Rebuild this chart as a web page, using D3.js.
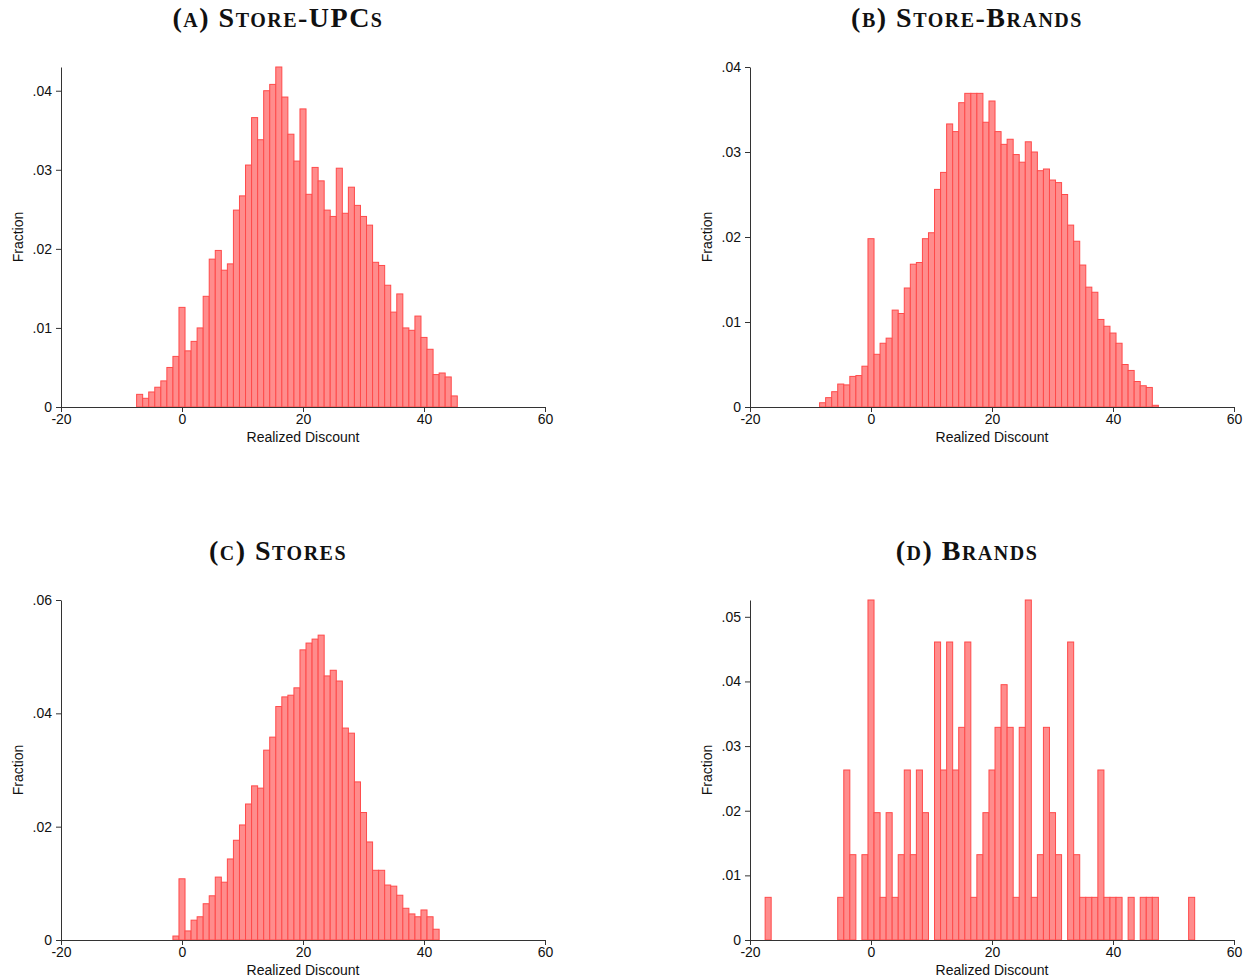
<!DOCTYPE html>
<html lang="en">
<head>
<meta charset="UTF-8">
<title>Realized Discount histograms</title>
<script src="https://cdn.jsdelivr.net/npm/d3@7"></script>
<style>
  body { margin: 0; background: #fff; }
  svg { display: block; }
  .axis text { font-family: "Liberation Sans", Arial, sans-serif; font-size: 14px; fill: #111; }
  .axis path, .axis line { stroke: #333; }
  .label { font-family: "Liberation Sans", Arial, sans-serif; font-size: 14px; fill: #111; }
  .title { font-family: "Liberation Serif", "Times New Roman", serif; font-weight: bold;
           font-variant: small-caps; font-size: 28px; fill: #111; letter-spacing: 1.5px; }
</style>
</head>
<body>
<svg id="chart" width="1252" height="980"></svg>
<script>
// (a) store-upcs: first bin is -7, one bin per integer discount
const startA = -7;
const fracA = [0.0016, 0.0011, 0.0019, 0.0025, 0.0033, 0.0050, 0.0064, 0.0126, 0.0071, 0.0083,
  0.0100, 0.0140, 0.0187, 0.0198, 0.0173, 0.0181, 0.0249, 0.0267, 0.0306, 0.0366,
  0.0338, 0.0400, 0.0408, 0.0430, 0.0392, 0.0345, 0.0311, 0.0377, 0.0269, 0.0303,
  0.0286, 0.0249, 0.0241, 0.0302, 0.0245, 0.0278, 0.0255, 0.0241, 0.0230, 0.0183,
  0.0179, 0.0154, 0.0120, 0.0143, 0.0100, 0.0097, 0.0115, 0.0088, 0.0073, 0.0041,
  0.0043, 0.0038, 0.0014];

// (b) store-brands
const startB = -8;
const fracB = [0.0005, 0.0011, 0.0018, 0.0027, 0.0026, 0.0036, 0.0037, 0.0048, 0.0198, 0.0062,
  0.0075, 0.0081, 0.0114, 0.0110, 0.0140, 0.0168, 0.0170, 0.0198, 0.0205, 0.0256,
  0.0276, 0.0333, 0.0324, 0.0358, 0.0369, 0.0369, 0.0369, 0.0335, 0.0360, 0.0324,
  0.0309, 0.0315, 0.0297, 0.0288, 0.0312, 0.0300, 0.0278, 0.0280, 0.0267, 0.0264,
  0.0250, 0.0214, 0.0195, 0.0167, 0.0141, 0.0135, 0.0103, 0.0095, 0.0087, 0.0075,
  0.0050, 0.0043, 0.0030, 0.0025, 0.0023, 0.0002];

// (c) stores
const startC = -1;
const fracC = [0.0007, 0.0108, 0.0016, 0.0035, 0.0041, 0.0064, 0.0078, 0.0111, 0.0102, 0.0143,
  0.0176, 0.0203, 0.0240, 0.0272, 0.0268, 0.0335, 0.0358, 0.0412, 0.0429, 0.0432,
  0.0445, 0.0512, 0.0524, 0.0531, 0.0538, 0.0466, 0.0476, 0.0457, 0.0374, 0.0365,
  0.0279, 0.0225, 0.0173, 0.0123, 0.0123, 0.0097, 0.0095, 0.0079, 0.0056, 0.0046,
  0.0041, 0.0053, 0.0041, 0.0019];

// (d) brands: sparse, so bins listed explicitly
const binsD = [-17, -5, -4, -3, -1, 0, 1, 2, 3, 4, 5, 6, 7, 8, 9, 11, 12, 13, 14, 15,
  16, 17, 18, 19, 20, 21, 22, 23, 24, 25, 26, 27, 28, 29, 30, 31, 33, 34, 35, 36,
  37, 38, 39, 40, 41, 43, 45, 46, 47, 53];
const fracD = [0.0066, 0.0066, 0.0263, 0.0132, 0.0132, 0.0526, 0.0197, 0.0066, 0.0197, 0.0066,
  0.0132, 0.0263, 0.0132, 0.0263, 0.0197, 0.0461, 0.0263, 0.0461, 0.0263, 0.0329,
  0.0461, 0.0066, 0.0132, 0.0197, 0.0263, 0.0329, 0.0395, 0.0329, 0.0066, 0.0329,
  0.0526, 0.0066, 0.0132, 0.0329, 0.0197, 0.0132, 0.0461, 0.0132, 0.0066, 0.0066,
  0.0066, 0.0263, 0.0066, 0.0066, 0.0066, 0.0066, 0.0066, 0.0066, 0.0066, 0.0066];

const xTicks = [-20, 0, 20, 40, 60];
const yTicksA = [0, 0.01, 0.02, 0.03, 0.04];
const yTicksB = [0, 0.01, 0.02, 0.03, 0.04];
const yTicksC = [0, 0.02, 0.04, 0.06];
const yTicksD = [0, 0.01, 0.02, 0.03, 0.04, 0.05];

const titles = ["(a) Store-UPCs", "(b) Store-Brands", "(c) Stores", "(d) Brands"];

const panels = [
  { title: titles[0], bins: fracA.map((d, i) => startA + i), vals: fracA, yTicks: yTicksA, left: 61, top: 67 },
  { title: titles[1], bins: fracB.map((d, i) => startB + i), vals: fracB, yTicks: yTicksB, left: 750, top: 67 },
  { title: titles[2], bins: fracC.map((d, i) => startC + i), vals: fracC, yTicks: yTicksC, left: 61, top: 600 },
  { title: titles[3], bins: binsD, vals: fracD, yTicks: yTicksD, left: 750, top: 600 }
];

const plotW = 484, plotH = 340;
const svg = d3.select("#chart");
const fmt = d => d === 0 ? "0" : d3.format(".2f")(d).replace(/^0/, "");

panels.forEach(p => {
  const yMax = Math.max(d3.max(p.vals), d3.max(p.yTicks));
  const x = d3.scaleLinear().domain([-20, 60]).range([p.left, p.left + plotW]);
  const y = d3.scaleLinear().domain([0, yMax]).range([p.top + plotH, p.top]);
  const g = svg.append("g");

  g.selectAll("rect")
    .data(p.bins.map((b, i) => ({ b: b, v: p.vals[i] })))
    .enter().append("rect")
    .attr("x", d => x(d.b - 0.5))
    .attr("width", d => x(d.b + 0.5) - x(d.b - 0.5))
    .attr("y", d => y(d.v))
    .attr("height", d => y(0) - y(d.v))
    .attr("fill", "#ff8c8c")
    .attr("stroke", "#ff4a4a")
    .attr("stroke-width", 1);

  g.append("g")
    .attr("class", "axis")
    .attr("transform", `translate(0,${p.top + plotH})`)
    .call(d3.axisBottom(x).tickValues(xTicks).tickFormat(d => String(d))
      .tickSize(5).tickSizeOuter(0).tickPadding(2));

  g.append("g")
    .attr("class", "axis")
    .attr("transform", `translate(${p.left},0)`)
    .call(d3.axisLeft(y).tickValues(p.yTicks).tickFormat(fmt).tickSize(5).tickSizeOuter(0).tickPadding(4));

  g.append("text")
    .attr("class", "label")
    .attr("x", p.left + plotW / 2)
    .attr("y", p.top + plotH + 35)
    .attr("text-anchor", "middle")
    .text("Realized Discount");

  g.append("text")
    .attr("class", "label")
    .attr("transform", `translate(${p.left - 38},${p.top + plotH / 2}) rotate(-90)`)
    .attr("text-anchor", "middle")
    .text("Fraction");

  g.append("text")
    .attr("class", "title")
    .attr("x", p.left + 217)
    .attr("y", p.top - 40)
    .attr("text-anchor", "middle")
    .text(p.title);
});
</script>
</body>
</html>
